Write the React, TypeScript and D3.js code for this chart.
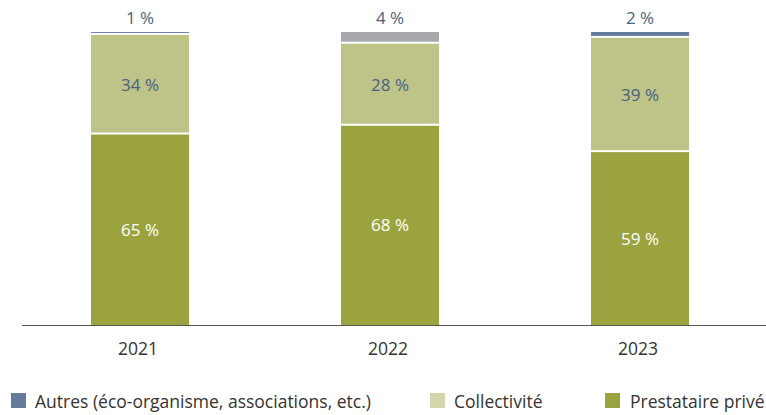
import React from "react";
import * as d3 from "d3";

const years = ["2021", "2022", "2023"];
const prestataire = [65, 68, 59];
const collectivite = [34, 28, 39];
const autres = [1, 4, 2];
const autresColors = ["#667a9b", "#a7a8ab", "#667a9b"];
const legendLabels = ["Autres (éco-organisme, associations, etc.)", "Collectivité", "Prestataire privé"];

const W = 766;
const H = 415;
const FONT = "'Open Sans', 'Noto Sans', sans-serif";
const FS = 17.5;
const C_PREST = "#9ba33e";
const C_COLL = "#bec387";
const C_COLL_LEG = "#d3d6aa";
const C_AUTRES = "#667a9b";
const LABEL_BLUE = "#4a6183";

export default function App() {
  const x = d3.scalePoint<string>().domain(years).range([140, 640]);
  const y = d3.scaleLinear().domain([0, 100]).range([325, 32]);
  const barW = 98;
  const gap = 2;

  const legendItems = [
    { label: legendLabels[0], color: C_AUTRES, sx: 11, tx: 35 },
    { label: legendLabels[1], color: C_COLL_LEG, sx: 430, tx: 454 },
    { label: legendLabels[2], color: C_PREST, sx: 605, tx: 630 },
  ];

  return (
    <svg width={W} height={H} style={{ position: "absolute", left: 0, top: 0 }} fontFamily={FONT}>
      {years.map((yr, i) => {
        const cx = x(yr)!;
        const x0 = cx - barW / 2;
        const segs = [
          { v: prestataire[i], color: C_PREST, text: "#ffffff" },
          { v: collectivite[i], color: C_COLL, text: LABEL_BLUE },
          { v: autres[i], color: autresColors[i], text: null as string | null },
        ];
        let cum = 0;
        const els: React.ReactNode[] = [];
        segs.forEach((s, j) => {
          const top = y(cum + s.v);
          const bot = y(cum);
          const h = bot - top - (j > 0 ? gap : 0);
          els.push(
            <rect key={"r" + j} x={x0} y={top} width={barW} height={Math.max(h, 0.8)} fill={s.color} />
          );
          if (s.text) {
            els.push(
              <text
                key={"t" + j}
                x={cx}
                y={(top + bot) / 2}
                dy="0.35em"
                textAnchor="middle"
                fontSize={FS - 0.5}
                fill={s.text}
              >
                {s.v} %
              </text>
            );
          }
          cum += s.v;
        });
        els.push(
          <text key="top" x={cx} y={y(cum) - 8} textAnchor="middle" fontSize={FS - 0.5} fill={LABEL_BLUE}>
            {autres[i]} %
          </text>
        );
        els.push(
          <text key="yr" x={cx - 2} y={355} textAnchor="middle" fontSize={FS} fill="#333333">
            {yr}
          </text>
        );
        return <g key={yr}>{els}</g>;
      })}
      <line x1={22} x2={766} y1={325.5} y2={325.5} stroke="#555555" strokeWidth={1} />
      {legendItems.map((it) => (
        <g key={it.label}>
          <rect x={it.sx} y={393} width={15} height={15} fill={it.color} />
          <text x={it.tx} y={408} fontSize={FS} fill="#333333">
            {it.label}
          </text>
        </g>
      ))}
    </svg>
  );
}
